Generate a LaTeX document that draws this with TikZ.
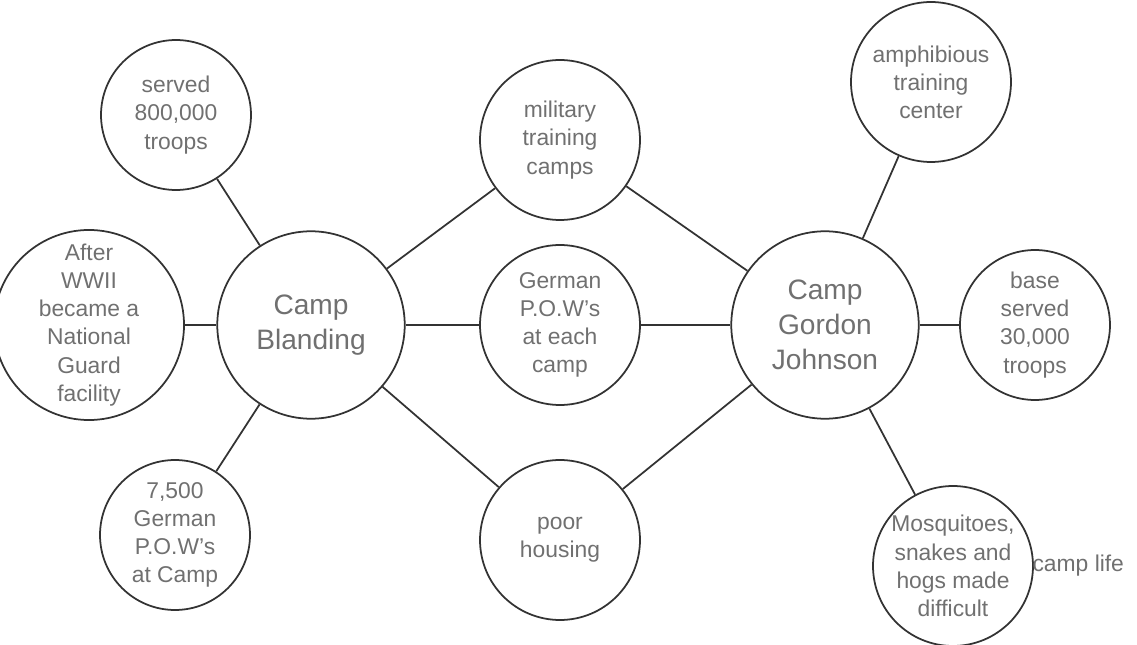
\documentclass[tikz,border=0pt]{standalone}
\usepackage{fontspec}
\setmainfont{Liberation Sans}
\usetikzlibrary{positioning}
\definecolor{pencil}{HTML}{707070}
\definecolor{ink}{HTML}{333333}

\begin{document}
\begin{tikzpicture}[x=0.02cm, y=-0.02cm,
    bubble/.style={draw=ink, circle, line width=1pt, inner sep=0pt,
                   align=center, text=pencil, font=\fontsize{13}{16}\selectfont},
    small/.style={bubble, minimum size=3.0cm},
    mid/.style={bubble, minimum size=3.2cm},
    hub/.style={bubble, minimum size=3.75cm, font=\fontsize{16}{20}\selectfont},
    link/.style={draw=ink, line width=1pt}
  ]
  \useasboundingbox (0,0) rectangle (1137,645);

  % two camps
  \node[hub] (blanding) at (311,325) {Camp\\Blanding};
  \node[hub] (gordon) at (825,325) {Camp\\Gordon\\Johnson};

  % shared facts in the middle
  \node[mid] (military) at (560,140) {military\\training\\camps};
  \node[mid] (pows) at (560,325) {German\\P.O.W's\\at each\\camp};
  \node[mid] (housing) at (560,540) {poor\\housing};

  % Camp Blanding facts
  \node[small] (troops) at (176,115) {served\\800,000\\troops};
  \node[mid] (guard) at (89,325) {After\\WWII\\became a\\National\\Guard\\facility};
  \node[small] (prisoners) at (175,535) {7,500\\German\\P.O.W's\\at Camp};

  % Camp Gordon Johnson facts
  \node[mid] (amphib) at (931,82) {amphibious\\training\\center};
  \node[small] (base) at (1035,325) {base\\served\\30,000\\troops};
  \node[mid] (bugs) at (953,566) {Mosquitoes,\\snakes and\\hogs made\\difficult};
  \node[right=-0.15cm of bugs, text=pencil, font=\fontsize{13}{16}\selectfont] (life) {camp life};

  \draw[link] (troops) -- (blanding);
  \draw[link] (guard) -- (blanding);
  \draw[link] (prisoners) -- (blanding);
  \draw[link] (blanding) -- (military);
  \draw[link] (blanding) -- (pows);
  \draw[link] (blanding) -- (housing);
  \draw[link] (military) -- (gordon);
  \draw[link] (pows) -- (gordon);
  \draw[link] (housing) -- (gordon);
  \draw[link] (gordon) -- (amphib);
  \draw[link] (gordon) -- (base);
  \draw[link] (gordon) -- (bugs);
\end{tikzpicture}
\end{document}
